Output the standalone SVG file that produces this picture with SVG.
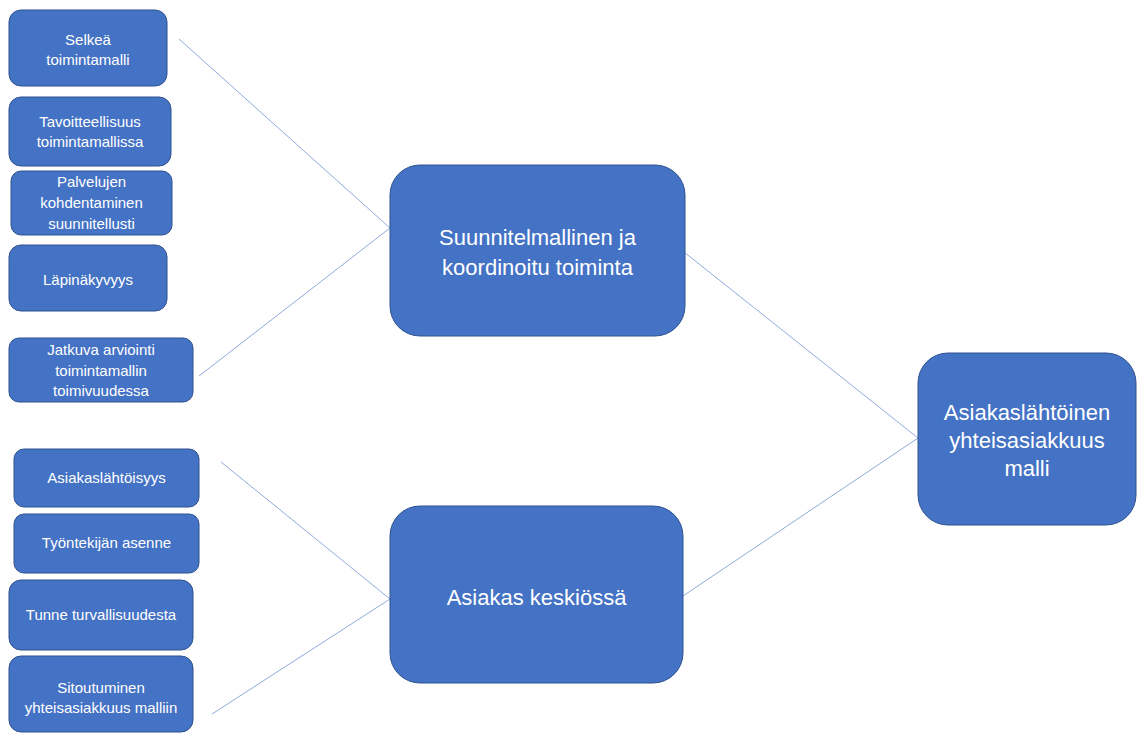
<svg xmlns="http://www.w3.org/2000/svg" width="1137" height="733" viewBox="0 0 1137 733">
<style>
.box{fill:#4472C4;stroke:#2F528F;stroke-width:1}
.s{font-family:"Liberation Sans",Arial,sans-serif;font-size:15px;fill:#fff;text-anchor:middle}
.b{font-family:"Liberation Sans",Arial,sans-serif;font-size:22px;fill:#fff;text-anchor:middle}
.c{stroke:#8FAADC;stroke-width:1;fill:none}
</style>
<rect width="1137" height="733" fill="#fff"/>
<g id="connectors">
<line class="c" x1="179" y1="39" x2="390" y2="228"/>
<line class="c" x1="199" y1="376" x2="390" y2="228"/>
<line class="c" x1="221" y1="462" x2="390" y2="599"/>
<line class="c" x1="212" y1="714" x2="390" y2="599"/>
<line class="c" x1="684" y1="252" x2="918" y2="438"/>
<line class="c" x1="683" y1="596" x2="918" y2="438"/>
</g>
<g id="n1"><rect class="box" x="9" y="10" width="158" height="76" rx="12"/><text class="s" x="88" y="45">Selkeä</text><text class="s" x="88" y="65">toimintamalli</text></g>
<g id="n2"><rect class="box" x="9" y="97" width="162" height="69" rx="12"/><text class="s" x="90" y="127">Tavoitteellisuus</text><text class="s" x="90" y="147">toimintamallissa</text></g>
<g id="n3"><rect class="box" x="11" y="171" width="161" height="64" rx="10"/><text class="s" x="91.5" y="187">Palvelujen</text><text class="s" x="91.5" y="208">kohdentaminen</text><text class="s" x="91.5" y="229">suunnitellusti</text></g>
<g id="n4"><rect class="box" x="9" y="245" width="158" height="66" rx="12"/><text class="s" x="88" y="285">Läpinäkyvyys</text></g>
<g id="n5"><rect class="box" x="9" y="338" width="184" height="64" rx="10"/><text class="s" x="101" y="355">Jatkuva arviointi</text><text class="s" x="101" y="376">toimintamallin</text><text class="s" x="101" y="396">toimivuudessa</text></g>
<g id="n6"><rect class="box" x="14" y="449" width="185" height="58" rx="10"/><text class="s" x="106.5" y="483">Asiakaslähtöisyys</text></g>
<g id="n7"><rect class="box" x="14" y="514" width="185" height="59" rx="10"/><text class="s" x="106.5" y="548">Työntekijän asenne</text></g>
<g id="n8"><rect class="box" x="9" y="580" width="184" height="70" rx="12"/><text class="s" x="101" y="620">Tunne turvallisuudesta</text></g>
<g id="n9"><rect class="box" x="9" y="656" width="184" height="76" rx="12"/><text class="s" x="101" y="693">Sitoutuminen</text><text class="s" x="101" y="713">yhteisasiakkuus malliin</text></g>
<g id="n10"><rect class="box" x="390" y="165" width="295" height="171" rx="30"/><text class="b" x="537.5" y="245">Suunnitelmallinen ja</text><text class="b" x="537.5" y="275">koordinoitu toiminta</text></g>
<g id="n11"><rect class="box" x="390" y="506" width="293" height="177" rx="30"/><text class="b" x="536.5" y="605">Asiakas keskiössä</text></g>
<g id="n12"><rect class="box" x="918" y="353" width="218" height="172" rx="30"/><text class="b" x="1027" y="420">Asiakaslähtöinen</text><text class="b" x="1027" y="448">yhteisasiakkuus</text><text class="b" x="1027" y="476">malli</text></g>
</svg>
